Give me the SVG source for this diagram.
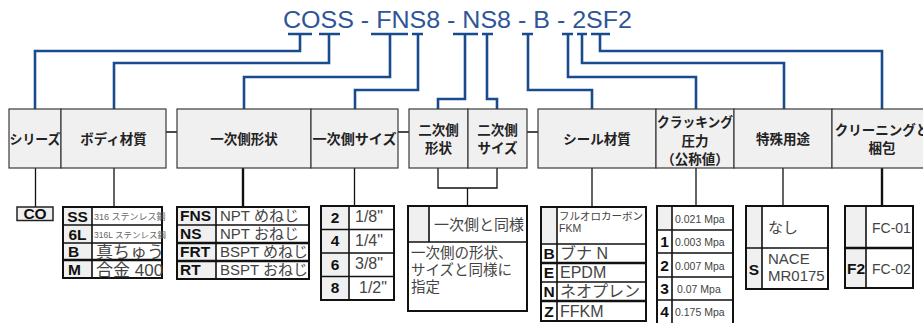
<svg xmlns="http://www.w3.org/2000/svg" width="923" height="323" viewBox="0 0 923 323">
<style>
.title{font-family:"Liberation Sans","Noto Sans CJK JP",sans-serif;font-size:24.5px;fill:#2E5597}
.bl{fill:none;stroke:#1B4B8F;stroke-width:2.6}
.k{fill:none;stroke:#111;stroke-width:1.3}
.kt{fill:none;stroke:#111;stroke-width:2.4}
.hb{fill:#F0F0F0;stroke:#3a3a3a;stroke-width:1.2}
.ht{font-family:"Noto Sans CJK JP","Liberation Sans",sans-serif;font-size:13.5px;font-weight:bold;fill:#222;text-anchor:middle}
.tb{fill:#fff;stroke:#111;stroke-width:2}
.g{fill:#F0F0F0}
.ln{stroke:#111;stroke-width:1.6}
.lt{stroke:#111;stroke-width:2.4}
.cd{font-family:"Liberation Sans","Noto Sans CJK JP",sans-serif;font-weight:bold;font-size:15.5px;fill:#111}
.cdc{font-family:"Liberation Sans","Noto Sans CJK JP",sans-serif;font-weight:bold;font-size:15.5px;fill:#111;text-anchor:middle}
.v{font-family:"Liberation Sans","Noto Sans CJK JP",sans-serif;font-size:15px;fill:#444}
.vs{font-family:"Liberation Sans","Noto Sans CJK JP",sans-serif;font-size:10.5px;fill:#444}
.vx{font-family:"Liberation Sans","Noto Sans CJK JP",sans-serif;font-size:9px;fill:#666}
</style>

<text class="title" x="283" y="28" textLength="349" lengthAdjust="spacingAndGlyphs">COSS - FNS8 - NS8 - B - 2SF2</text>

<g id="connectors">
  <g class="bl">
    <path d="M288,34H312M319,34H340M371,34H408M412,34H423M453,34H478M482,34H493M522,34H533M562,34H573M577,34H587M591,34H610"/>
    <path d="M300,34V51H35V109"/>
    <path d="M329,34V63H114V109"/>
    <path d="M390,34V77H244V109"/>
    <path d="M418,34V90H355V109"/>
    <path d="M465,34V99H438V109"/>
    <path d="M487,34V99H497V109"/>
    <path d="M528,34V90H592V109"/>
    <path d="M568,34V77H696V109"/>
    <path d="M582,34V63H784V109"/>
    <path d="M600,34V51H882V109"/>
  </g>
  <path class="k" d="M166,132H177M398,132H409M527,132H538M646,132H656"/>
  <path class="k" d="M35.5,168V207M114,168V207M354.5,168V206M438,168V188H497V168M467.5,188V206M592,168V207M696,168V206M783,168V206"/>
  <path class="kt" d="M243,168V207M882,168V206"/>
</g>

<g id="header-series"><rect class="hb" x="9" y="109" width="52" height="59"/><text class="ht" x="35" y="144" textLength="51" lengthAdjust="spacingAndGlyphs">シリーズ</text></g>
<g id="header-body"><rect class="hb" x="61" y="109" width="105" height="59"/><text class="ht" x="113.5" y="144">ボディ材質</text></g>
<g id="header-pshape"><rect class="hb" x="177" y="109" width="134" height="59"/><text class="ht" x="244" y="144">一次側形状</text></g>
<g id="header-psize"><rect class="hb" x="311" y="109" width="87" height="59"/><text class="ht" x="354.5" y="144" textLength="84" lengthAdjust="spacingAndGlyphs">一次側サイズ</text></g>
<g id="header-sshape"><rect class="hb" x="409" y="109" width="59" height="59"/><text class="ht" x="438.5" y="135">二次側</text><text class="ht" x="438.5" y="153">形状</text></g>
<g id="header-ssize"><rect class="hb" x="468" y="109" width="59" height="59"/><text class="ht" x="497.5" y="135">二次側</text><text class="ht" x="497.5" y="153">サイズ</text></g>
<g id="header-seal"><rect class="hb" x="538" y="109" width="118" height="59"/><text class="ht" x="597" y="144">シール材質</text></g>
<g id="header-crack"><rect class="hb" x="656" y="109" width="78" height="59"/><text class="ht" x="695" y="127" textLength="76" lengthAdjust="spacingAndGlyphs">クラッキング</text><text class="ht" x="695" y="146">圧力</text><text class="ht" x="695" y="164">（公称値）</text></g>
<g id="header-special"><rect class="hb" x="734" y="109" width="98" height="59"/><text class="ht" x="783" y="144">特殊用途</text></g>
<g id="header-clean"><rect class="hb" x="832" y="109" width="100" height="59"/><text class="ht" x="882" y="135">クリーニングと</text><text class="ht" x="882" y="153">梱包</text></g>

<g id="table-series">
  <rect class="hb" x="17" y="207" width="36" height="13.5" style="stroke:#222;stroke-width:1.5"/>
  <text class="cdc" x="35" y="219">CO</text>
</g>

<g id="table-body">
  <rect class="tb" x="63" y="207" width="99" height="71"/>
  <rect class="g" x="64" y="208" width="28" height="69"/>
  <path class="ln" d="M92,207V278M63,225H162M63,243H162"/>
  <path class="lt" d="M63,260H162"/>
  <text class="cdc" x="77.5" y="222">SS</text>
  <text class="cdc" x="77.5" y="240">6L</text>
  <text class="cd" x="68" y="257">B</text>
  <text class="cd" x="68" y="275">M</text>
  <text class="vx" x="94" y="220">316 ステンレス鋼</text>
  <text class="vx" x="94" y="238" style="font-size:8.5px">316L ステンレス鋼</text>
  <text class="v" x="96" y="258" style="font-size:17px">真ちゅう</text>
  <text class="v" x="96" y="276" style="font-size:17px">合金 400</text>
</g>

<g id="table-pshape">
  <rect class="tb" x="177" y="207" width="132" height="72"/>
  <rect class="g" x="178" y="208" width="38" height="70"/>
  <path class="ln" d="M216,207V279M177,225H309"/>
  <path class="lt" d="M177,243H309M177,261H309"/>
  <text class="cd" x="180" y="221">FNS</text>
  <text class="cd" x="180" y="239">NS</text>
  <text class="cd" x="180" y="257">FRT</text>
  <text class="cd" x="180" y="275">RT</text>
  <text class="v" x="220" y="221">NPT めねじ</text>
  <text class="v" x="220" y="239">NPT おねじ</text>
  <text class="v" x="220" y="257">BSPT めねじ</text>
  <text class="v" x="220" y="275">BSPT おねじ</text>
</g>

<g id="table-psize">
  <rect class="tb" x="321" y="206" width="73" height="94"/>
  <rect class="g" x="322" y="207" width="27" height="92"/>
  <path class="ln" d="M349,206V300M321,229.5H394M321,253H394M321,276.5H394"/>
  <text class="cdc" x="335" y="223">2</text>
  <text class="cdc" x="335" y="246">4</text>
  <text class="cdc" x="335" y="270">6</text>
  <text class="cdc" x="335" y="293">8</text>
  <text class="v" x="355" y="222" style="font-size:16px">1/8"</text>
  <text class="v" x="355" y="246" style="font-size:16px">1/4"</text>
  <text class="v" x="355" y="269" style="font-size:16px">3/8"</text>
  <text class="v" x="359" y="293" style="font-size:16px">1/2"</text>
</g>

<g id="table-secondary">
  <rect class="tb" x="408" y="206" width="119" height="105"/>
  <rect class="g" x="409" y="207" width="20" height="35"/>
  <path class="ln" d="M429,206V242M408,242H527"/>
  <text class="v" x="434" y="230">一次側と同様</text>
  <text class="v" x="411" y="258" style="font-size:14.5px">一次側の形状、</text>
  <text class="v" x="411" y="275" style="font-size:14.5px">サイズと同様に</text>
  <text class="v" x="411" y="292" style="font-size:14.5px">指定</text>
</g>

<g id="table-seal">
  <rect class="tb" x="541" y="207" width="105" height="114"/>
  <rect class="g" x="542" y="208" width="15" height="36"/>
  <path class="ln" d="M557,207V321M541,244H646M541,282H646"/>
  <path class="lt" d="M541,263H646M541,301H646"/>
  <text class="vs" x="559" y="220">フルオロカーボン</text>
  <text class="vs" x="559" y="232">FKM</text>
  <text class="cdc" x="549" y="259">B</text>
  <text class="cdc" x="549" y="278">E</text>
  <text class="cdc" x="549" y="297">N</text>
  <text class="cdc" x="549" y="317">Z</text>
  <text class="v" x="560" y="259" style="font-size:16px">ブナ N</text>
  <text class="v" x="560" y="278" style="font-size:16px">EPDM</text>
  <text class="v" x="560" y="297" style="font-size:16px">ネオプレン</text>
  <text class="v" x="560" y="317" style="font-size:16px">FFKM</text>
</g>

<g id="table-crack">
  <path class="tb" d="M657,325V206H733V325"/>
  <rect class="g" x="658" y="207" width="14" height="23"/>
  <path class="ln" d="M672,206V325M657,230H733M657,253H733M657,277H733M657,300H733"/>
  <text class="vs" x="675" y="223">0.021 Mpa</text>
  <text class="cdc" x="664.5" y="247">1</text>
  <text class="cdc" x="664.5" y="271">2</text>
  <text class="cdc" x="664.5" y="294">3</text>
  <text class="cdc" x="664.5" y="317">4</text>
  <text class="vs" x="675" y="246">0.003 Mpa</text>
  <text class="vs" x="675" y="270">0.007 Mpa</text>
  <text class="vs" x="677" y="293">0.07 Mpa</text>
  <text class="vs" x="675" y="316">0.175 Mpa</text>
</g>

<g id="table-special">
  <rect class="tb" x="746" y="206" width="82" height="83"/>
  <rect class="g" x="747" y="207" width="15" height="81"/>
  <path class="ln" d="M762,206V289M746,248H828"/>
  <text class="v" x="768" y="233">なし</text>
  <text class="cdc" x="754" y="275">S</text>
  <text class="v" x="768" y="264">NACE</text>
  <text class="v" x="768" y="281">MR0175</text>
</g>

<g id="table-clean">
  <rect class="tb" x="845" y="206" width="68" height="82"/>
  <rect class="g" x="846" y="207" width="20" height="80"/>
  <path class="ln" d="M866,206V288"/>
  <path class="lt" d="M845,248H913"/>
  <text class="v" x="872" y="233" style="font-size:14px">FC-01</text>
  <text class="cdc" x="856" y="274">F2</text>
  <text class="v" x="872" y="274" style="font-size:14px">FC-02</text>
</g>
</svg>
